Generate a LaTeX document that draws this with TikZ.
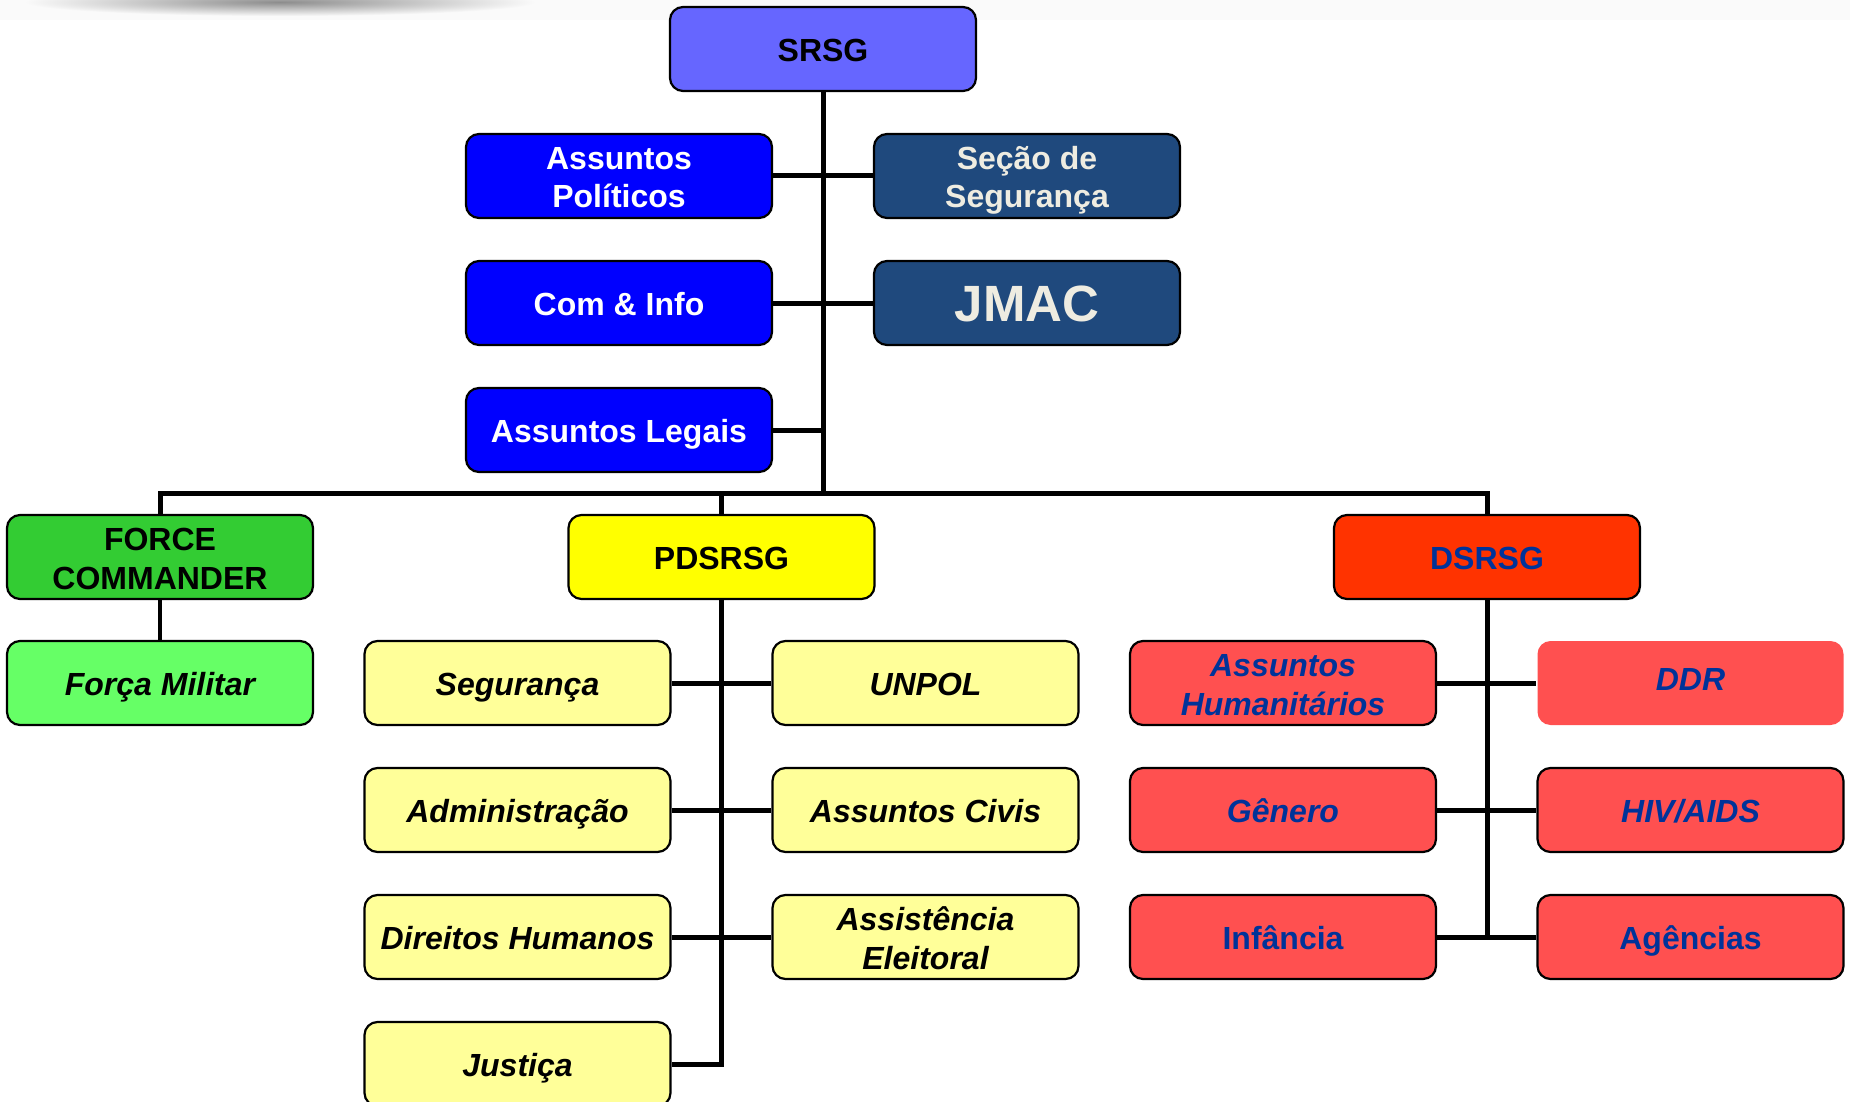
\documentclass[tikz,border=0pt]{standalone}
\usepackage{fontspec}
\setmainfont{Liberation Sans}
\usetikzlibrary{backgrounds}
\definecolor{srsgC}{HTML}{6666FF}
\definecolor{blueC}{HTML}{0000FF}
\definecolor{navyC}{HTML}{1F497D}
\definecolor{creamC}{HTML}{EEECE1}
\definecolor{fcC}{HTML}{33CC33}
\definecolor{fmC}{HTML}{66FF66}
\definecolor{pdC}{HTML}{FFFF00}
\definecolor{ylC}{HTML}{FFFF99}
\definecolor{dsC}{HTML}{FF3300}
\definecolor{rlC}{HTML}{FF5050}
\definecolor{rtC}{HTML}{003399}
\newcommand\topst{\rule{0pt}{32pt}}
\newcommand\botst{\rule[-7pt]{0pt}{7pt}}
\tikzset{
  box/.style={draw=black, line width=2.2pt, rounded corners=13pt,
    minimum width=306pt, minimum height=84pt, inner sep=0pt,
    text height=32pt, text depth=7pt,
    align=center, font=\fontsize{32}{39}\selectfont\bfseries},
  multi/.style={text height=, text depth=},
  bluebox/.style={box, fill=blueC, text=white},
  navybox/.style={box, fill=navyC, text=creamC},
  ylbox/.style={box, fill=ylC, text=black, font=\fontsize{32}{39}\selectfont\bfseries\itshape},
  rlbox/.style={box, fill=rlC, text=rtC, font=\fontsize{32}{39}\selectfont\bfseries\itshape},
  rlboxup/.style={box, fill=rlC, text=rtC},
  link/.style={draw=black, line width=5pt},
}
\begin{document}
\begin{tikzpicture}[x=1pt,y=-1pt]
\useasboundingbox (0,0) rectangle (1850,1102);
% top nodes
\node[box, fill=srsgC] (srsg) at (823,49) {SRSG};
\node[bluebox, multi] (apol) at (619,176) {\topst Assuntos\\Políticos\botst};
\node[navybox, multi] (seca) at (1027,176) {\topst Seção de\\Segurança\botst};
\node[bluebox] (cinfo) at (619,303) {Com \& Info};
\node[navybox, font=\fontsize{51}{56}\selectfont\bfseries, text height=48pt, text depth=10.4pt] (jmac) at (1027,303) {JMAC};
\node[bluebox] (aleg) at (619,430) {Assuntos Legais};
% second level
\node[box, multi, fill=fcC] (fc) at (160,557) {\topst FORCE\\COMMANDER\botst};
\node[box, fill=pdC] (pd) at (721.5,557) {PDSRSG};
\node[box, fill=dsC, text=rtC] (ds) at (1487,557) {DSRSG};
\node[box, fill=fmC, font=\fontsize{32}{39}\selectfont\bfseries\itshape] (fmil) at (160,683) {Força Militar};
% PDSRSG children
\node[ylbox] (seg) at (517.5,683) {Segurança};
\node[ylbox] (unpol) at (925.5,683) {UNPOL};
\node[ylbox] (adm) at (517.5,810) {Administração};
\node[ylbox] (acivis) at (925.5,810) {Assuntos Civis};
\node[ylbox] (dh) at (517.5,937) {Direitos Humanos};
\node[ylbox, multi] (ael) at (925.5,937) {\topst Assistência\\Eleitoral\botst};
\node[ylbox] (jus) at (517.5,1064) {Justiça};
% DSRSG children
\node[rlbox, multi] (ahum) at (1283,683) {\topst Assuntos\\Humanitários\botst};
\node[rlbox, draw=none, text depth=18pt] (ddr) at (1690.5,683) {DDR};
\node[rlbox] (gen) at (1283,810) {Gênero};
\node[rlbox] (hiv) at (1690.5,810) {HIV/AIDS};
\node[rlboxup] (inf) at (1283,937) {Infância};
\node[rlboxup] (agen) at (1690.5,937) {Agências};
\coordinate (bus) at (823,493);
\begin{scope}[on background layer]
  % decorative top band and swoosh
  \fill[black!2] (0,0) rectangle (1850,20);
  \shade[inner color=black!45, outer color=black!2] (280,2) ellipse (255pt and 14pt);
  % connectors
  \draw[link] (srsg.south) -- (bus);
  \draw[link] (apol.east) -- (seca.west);
  \draw[link] (cinfo.east) -- (jmac.west);
  \draw[link] (aleg.east) -- (aleg.east -| bus);
  \draw[link] (fc.north) -- (fc.north |- bus) -- (ds.north |- bus) -- (ds.north);
  \draw[link, line width=4.5pt] (pd.north) -- (pd.north |- bus);
  \draw[link, line width=4.5pt] (fc.south) -- (fmil.north);
  \draw[link] (pd.south) |- (jus.east);
  \draw[link] (seg.east) -- (unpol.west);
  \draw[link] (adm.east) -- (acivis.west);
  \draw[link] (dh.east) -- (ael.west);
  \draw[link] (ds.south) -- (ds.south |- inf.east);
  \draw[link] (ahum.east) -- (ddr.west);
  \draw[link] (gen.east) -- (hiv.west);
  \draw[link] (inf.east) -- (agen.west);
\end{scope}
\end{tikzpicture}
\end{document}
